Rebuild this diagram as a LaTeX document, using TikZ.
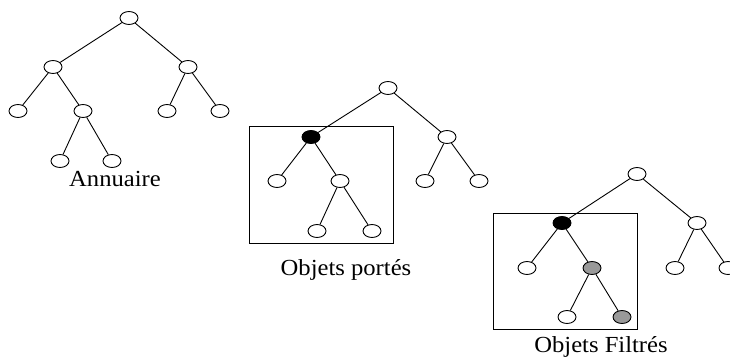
\documentclass[tikz,border=0pt]{standalone}
\usepackage{fontspec}
\usepackage{graphicx}
\setmainfont{Liberation Serif}
\usetikzlibrary{shapes.geometric}
\newcommand{\widecaption}[1]{\scalebox{1.07}[1]{#1}}
\tikzset{
  vertex/.style={ellipse, draw=black, line width=0.9pt, fill=white,
                 minimum width=18pt, minimum height=13pt, inner sep=0pt},
  chosen/.style={vertex, fill=black},
  kept/.style={vertex, fill=black!40},
  link/.style={draw=black, line width=0.9pt},
  frame/.style={draw=black, line width=0.9pt},
  caption/.style={anchor=base, inner sep=0pt, font=\fontsize{23}{27}\selectfont}
}
\begin{document}
\begin{tikzpicture}[x=1pt, y=-1pt]
  \clip (0,0) rectangle (730,356);
  \fill[white] (0,0) rectangle (730,356);

  % Annuaire: the full directory tree
  \node[vertex] (r1)   at (129,18)  {};
  \node[vertex] (a1)   at (53,67)   {};
  \node[vertex] (b1)   at (188,67)  {};
  \node[vertex] (aa1)  at (18,111)  {};
  \node[vertex] (ab1)  at (83,111)  {};
  \node[vertex] (ba1)  at (167,111) {};
  \node[vertex] (bb1)  at (220,111) {};
  \node[vertex] (aba1) at (60,161)  {};
  \node[vertex] (abb1) at (112,161) {};
  \draw[link] (r1) -- (a1) (r1) -- (b1)
              (a1) -- (aa1) (a1) -- (ab1)
              (b1) -- (ba1) (b1) -- (bb1)
              (ab1) -- (aba1) (ab1) -- (abb1);
  \node[caption] (cap1) at (115,186) {\widecaption{Annuaire}};

  % Objets portés: subtree under the selected entry
  \node[frame, minimum width=144pt, minimum height=117pt, inner sep=0pt] (box2) at (321,184.5) {};
  \node[vertex] (r2)   at (388,88)  {};
  \node[chosen] (a2)   at (311,137) {};
  \node[vertex] (b2)   at (447,137) {};
  \node[vertex] (aa2)  at (277,181) {};
  \node[vertex] (ab2)  at (340,181) {};
  \node[vertex] (ba2)  at (425,181) {};
  \node[vertex] (bb2)  at (479,181) {};
  \node[vertex] (aba2) at (317,231) {};
  \node[vertex] (abb2) at (372,231) {};
  \draw[link] (r2) -- (a2) (r2) -- (b2)
              (a2) -- (aa2) (a2) -- (ab2)
              (b2) -- (ba2) (b2) -- (bb2)
              (ab2) -- (aba2) (ab2) -- (abb2);
  \node[caption] (cap2) at (346,275) {\widecaption{Objets portés}};

  % Objets Filtrés: entries of the subtree that pass the filter
  \node[frame, minimum width=144pt, minimum height=116pt, inner sep=0pt] (box3) at (565,271) {};
  \node[vertex] (r3)   at (637,174) {};
  \node[chosen] (a3)   at (562,223) {};
  \node[vertex] (b3)   at (697,223) {};
  \node[vertex] (aa3)  at (527,268) {};
  \node[kept]   (ab3)  at (592,268) {};
  \node[vertex] (ba3)  at (675,268) {};
  \node[vertex] (bb3)  at (728,268) {};
  \node[vertex] (aba3) at (567,317) {};
  \node[kept]   (abb3) at (622,317) {};
  \draw[link] (r3) -- (a3) (r3) -- (b3)
              (a3) -- (aa3) (a3) -- (ab3)
              (b3) -- (ba3) (b3) -- (bb3)
              (ab3) -- (aba3) (ab3) -- (abb3);
  \node[caption] (cap3) at (601,352) {\widecaption{Objets Filtrés}};
\end{tikzpicture}
\end{document}
